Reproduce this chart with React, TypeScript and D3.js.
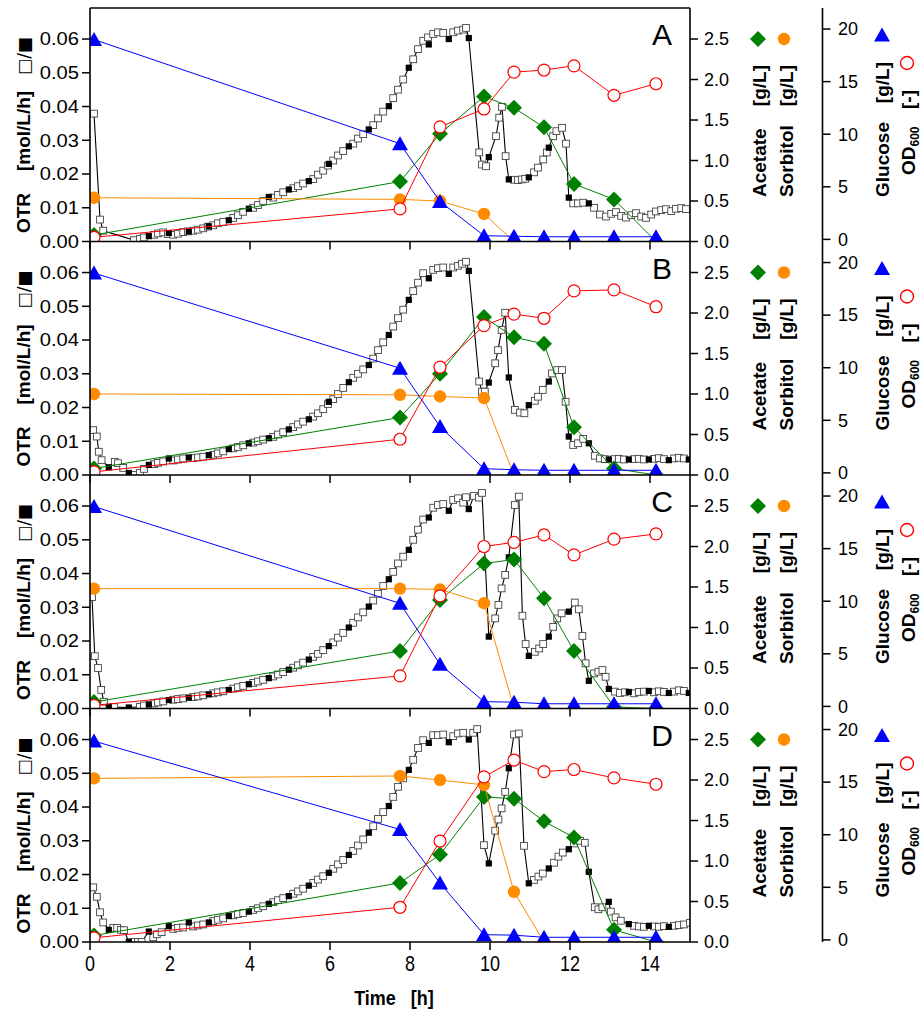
import React from "react";
import * as d3 from "d3";

// offline samples (h)
const sampleTime = [0.1, 7.75, 8.75, 9.85, 10.6, 11.35, 12.1, 13.1, 14.15];

const acetateA = [0.08, 0.74, 1.33, 1.79, 1.65, 1.41, 0.71, 0.52, 0];
const sorbitolA = [0.54, 0.52, 0.5, 0.34, 0, 0, 0, 0, 0];
const glucoseA = [19.0, 9.1, 3.6, 0.35, 0.3, 0.25, 0.25, 0.25, 0.25];
const odA = [0.2, 2.9, 10.7, 12.4, 15.9, 16.1, 16.5, 13.7, 14.8];

const acetateB = [0.08, 0.71, 1.25, 1.95, 1.7, 1.62, 0.59, 0.08, 0];
const sorbitolB = [1.0, 0.99, 0.97, 0.95, 0, 0, 0, 0, 0];
const glucoseB = [19.0, 9.95, 4.4, 0.4, 0.3, 0.25, 0.25, 0.25, 0.25];
const odB = [0.1, 3.2, 10.05, 14.0, 15.1, 14.7, 17.3, 17.4, 15.8];

const acetateC = [0.08, 0.71, 1.34, 1.79, 1.84, 1.36, 0.71, 0.02, 0];
const sorbitolC = [1.48, 1.48, 1.47, 1.3, 0, 0, 0, 0, 0];
const glucoseC = [19.0, 9.8, 4.0, 0.45, 0.4, 0.25, 0.25, 0.25, 0.25];
const odC = [0.1, 2.9, 10.5, 15.2, 15.6, 16.3, 14.4, 15.9, 16.4];

const acetateD = [0.08, 0.73, 1.08, 1.79, 1.77, 1.49, 1.29, 0.15, 0];
const sorbitolD = [2.02, 2.05, 2.0, 1.94, 0.62, 0, 0, 0, 0];
const glucoseD = [18.9, 10.5, 5.4, 0.5, 0.45, 0.25, 0.25, 0.25, 0.25];
const odD = [0.2, 3.1, 9.4, 15.5, 17.1, 16.0, 16.2, 15.4, 14.8];

// OTR, filled squares (mmol/L/h), every 0.5 h
const otrFilledTime = [0.47, 0.97, 1.47, 1.97, 2.47, 2.97, 3.47, 3.97, 4.47, 4.97, 5.47, 5.97, 6.47, 6.97, 7.47, 7.97, 8.47, 8.97, 9.47, 9.97, 10.47, 10.97, 11.47, 11.97, 12.47, 12.97, 13.47, 13.97, 14.47, 14.97];
const otrFilledA = [null, null, 1.6, 2.5, 3.0, 4.5, 6.3, 9.7, 13.2, 15.4, 17.9, 23.0, 28.2, 33.2, 40.1, 51.5, 58.4, 60.0, 60.3, 25.0, 18.4, 19.0, 27.8, 13.0, 11.3, null, null, null, null, null];
const otrFilledB = [2.3, 0.6, 3.0, 4.9, 5.2, 5.9, 7.7, 9.4, 10.9, 13.5, 16.5, 21.7, 27.5, 32.6, 41.5, 51.9, 58.3, 59.6, 60.5, 27.4, 28.9, 20.7, 27.7, 11.4, 9.4, 4.6, 4.6, 4.6, 4.4, 4.6];
const otrFilledC = [0.5, 0.3, 1.2, 2.5, 3.2, 4.2, 5.5, 7.2, 9.0, 11.5, 14.5, 18.5, 24.0, 30.2, 38.3, 47.0, 56.6, 58.6, 59.1, 21.3, 44.8, 15.6, 21.3, 28.7, 8.2, 5.8, 4.9, 5.2, 4.6, 4.6];
const otrFilledD = [3.6, 0.1, 3.1, 4.7, 5.8, 5.8, 7.7, 9.0, 11.3, 13.6, 16.7, 20.5, 25.8, 32.4, 40.3, 51.0, 59.0, 59.2, 60.0, 23.3, 51.5, 17.4, 21.8, 27.5, 20.8, 11.9, 5.3, 4.8, 4.5, null];

// OTR, open squares [t (h), mmol/L/h]
const otrOpenA = [[0.1, 37.9], [0.25, 6.5], [0.33, 3.2], [1.1, 0.4], [1.25, 0.8], [1.35, 1.2], [1.6, 2.0], [1.7, 2.4], [1.83, 2.7], [1.95, 2.2], [2.08, 2.0], [2.2, 2.3], [2.33, 2.8], [2.45, 3.0], [2.58, 3.2], [2.7, 3.5], [2.83, 3.9], [2.95, 4.4], [3.08, 4.8], [3.2, 5.4], [3.33, 5.8], [3.58, 7.0], [3.7, 7.8], [3.83, 8.8], [4.08, 10.0], [4.2, 10.8], [4.33, 12.0], [4.58, 13.0], [4.7, 13.8], [4.83, 14.6], [5.08, 15.8], [5.2, 16.4], [5.33, 17.2], [5.58, 18.5], [5.7, 19.8], [5.83, 21.0], [5.95, 22.5], [6.08, 24.0], [6.2, 25.5], [6.33, 26.8], [6.58, 29.0], [6.7, 30.5], [6.83, 31.8], [7.08, 34.5], [7.2, 36.5], [7.33, 38.5], [7.58, 42.5], [7.7, 45.0], [7.83, 48.0], [8.08, 54.0], [8.2, 57.0], [8.33, 59.5], [8.45, 60.5], [8.58, 61.5], [8.7, 62.0], [8.83, 61.8], [9.08, 62.0], [9.2, 62.5], [9.33, 62.8], [9.4, 63.3], [9.73, 26.4], [9.8, 22.8], [9.9, 22.3], [10.15, 31.2], [10.23, 36.7], [10.3, 39.9], [10.39, 25.3], [10.6, 18.3], [10.7, 18.2], [10.8, 18.4], [10.88, 18.6], [11.1, 20.5], [11.2, 21.9], [11.33, 24.3], [11.42, 26.4], [11.58, 31.2], [11.66, 32.7], [11.8, 33.7], [11.9, 29.0], [12.08, 11.3], [12.2, 11.3], [12.33, 11.5], [12.6, 10.0], [12.75, 8.0], [12.9, 7.4], [13.03, 8.2], [13.15, 8.7], [13.28, 7.6], [13.4, 7.1], [13.53, 7.8], [13.65, 8.4], [13.78, 7.4], [13.9, 7.0], [14.03, 8.0], [14.15, 8.9], [14.28, 9.3], [14.4, 9.6], [14.53, 9.0], [14.65, 9.7], [14.78, 9.9], [14.9, 9.6]];
const otrOpenB = [[0.08, 13.3], [0.17, 11.4], [0.22, 6.9], [0.29, 4.4], [0.62, 3.9], [0.7, 3.5], [0.83, 2.1], [1.1, 0.0], [1.25, 0.6], [1.35, 1.8], [1.6, 3.2], [1.7, 3.6], [1.83, 4.0], [2.08, 4.3], [2.2, 4.6], [2.33, 4.9], [2.58, 5.0], [2.7, 5.2], [2.83, 5.4], [3.08, 6.0], [3.2, 6.4], [3.33, 7.0], [3.58, 7.9], [3.7, 8.3], [3.83, 8.8], [4.08, 9.6], [4.2, 10.0], [4.33, 10.5], [4.58, 11.3], [4.7, 12.0], [4.83, 12.7], [5.08, 14.2], [5.2, 15.0], [5.33, 15.8], [5.58, 17.3], [5.7, 18.3], [5.83, 19.5], [5.95, 21.0], [6.08, 22.5], [6.2, 24.0], [6.33, 25.8], [6.58, 28.8], [6.7, 30.0], [6.83, 31.3], [7.08, 34.5], [7.2, 37.0], [7.33, 39.3], [7.58, 44.0], [7.7, 46.5], [7.83, 49.0], [8.08, 54.5], [8.2, 57.0], [8.33, 59.8], [8.58, 60.8], [8.7, 61.3], [8.83, 61.5], [9.08, 61.5], [9.2, 62.0], [9.3, 62.6], [9.4, 63.2], [9.73, 27.7], [9.8, 24.7], [9.87, 24.7], [10.13, 33.1], [10.2, 37.0], [10.29, 43.0], [10.38, 48.1], [10.62, 19.3], [10.75, 18.5], [10.86, 18.3], [11.12, 22.0], [11.2, 23.2], [11.32, 25.2], [11.55, 30.1], [11.68, 31.1], [11.8, 31.1], [11.89, 21.7], [12.08, 8.9], [12.2, 9.4], [12.33, 10.7], [12.62, 5.7], [12.75, 4.9], [12.87, 4.7], [13.1, 4.7], [13.22, 4.8], [13.35, 4.6], [13.6, 4.7], [13.72, 4.8], [13.85, 4.6], [14.1, 4.8], [14.22, 5.0], [14.35, 4.7], [14.6, 4.9], [14.72, 5.1], [14.85, 4.9]];
const otrOpenC = [[0.05, 33.0], [0.12, 15.5], [0.2, 12.0], [0.28, 5.5], [0.35, 2.0], [0.6, 0.4], [1.25, 0.5], [1.35, 0.9], [1.6, 1.5], [1.7, 1.8], [1.83, 2.1], [2.08, 2.6], [2.2, 2.8], [2.33, 3.0], [2.58, 3.4], [2.7, 3.6], [2.83, 3.9], [3.08, 4.5], [3.2, 4.8], [3.33, 5.1], [3.58, 5.9], [3.7, 6.3], [3.83, 6.7], [4.08, 7.6], [4.2, 8.0], [4.33, 8.5], [4.58, 9.5], [4.7, 10.1], [4.83, 10.8], [5.08, 12.1], [5.2, 12.8], [5.33, 13.6], [5.58, 15.3], [5.7, 16.2], [5.83, 17.3], [6.08, 19.6], [6.2, 21.0], [6.33, 22.4], [6.58, 25.4], [6.7, 27.0], [6.83, 28.5], [7.08, 32.0], [7.2, 34.0], [7.33, 36.3], [7.58, 40.5], [7.7, 43.0], [7.83, 45.0], [8.08, 50.0], [8.2, 53.0], [8.33, 56.0], [8.58, 59.5], [8.7, 60.3], [8.83, 60.6], [9.08, 61.8], [9.2, 62.3], [9.33, 61.0], [9.4, 62.6], [9.6, 63.0], [9.72, 62.5], [9.8, 63.9], [10.13, 26.7], [10.21, 30.7], [10.29, 35.6], [10.38, 39.6], [10.62, 60.3], [10.72, 62.8], [10.81, 27.5], [10.89, 19.1], [11.12, 16.8], [11.23, 17.8], [11.33, 19.1], [11.58, 24.2], [11.68, 26.7], [11.79, 28.2], [12.12, 31.4], [12.22, 29.4], [12.31, 21.5], [12.39, 13.4], [12.6, 10.4], [12.71, 10.9], [12.81, 11.4], [12.89, 9.4], [13.12, 5.0], [13.25, 4.6], [13.37, 4.8], [13.6, 4.5], [13.72, 4.9], [13.85, 5.0], [14.1, 4.8], [14.22, 5.1], [14.35, 4.9], [14.6, 5.0], [14.72, 5.4], [14.85, 5.2]];
const otrOpenD = [[0.08, 16.2], [0.17, 13.4], [0.25, 8.8], [0.33, 5.8], [0.58, 4.2], [0.68, 4.2], [0.77, 3.6], [0.85, 3.5], [1.1, 0.0], [1.2, 0.0], [1.29, 0.0], [1.58, 1.4], [1.67, 2.3], [1.79, 2.9], [2.08, 3.9], [2.2, 4.2], [2.33, 4.3], [2.58, 4.6], [2.7, 4.9], [2.83, 5.2], [3.08, 6.2], [3.2, 6.6], [3.33, 7.0], [3.58, 7.9], [3.7, 8.3], [3.83, 8.6], [4.08, 9.5], [4.2, 10.0], [4.33, 10.6], [4.58, 11.8], [4.7, 12.4], [4.83, 13.0], [5.08, 14.3], [5.2, 15.0], [5.33, 15.8], [5.58, 17.5], [5.7, 18.5], [5.83, 19.5], [6.08, 21.7], [6.2, 23.0], [6.33, 24.3], [6.58, 27.0], [6.7, 28.6], [6.83, 30.4], [7.08, 34.3], [7.2, 36.5], [7.33, 38.5], [7.58, 43.0], [7.7, 46.0], [7.83, 48.5], [8.08, 54.0], [8.2, 57.5], [8.33, 59.8], [8.58, 61.3], [8.7, 61.3], [8.83, 61.5], [9.08, 61.0], [9.2, 61.8], [9.33, 62.0], [9.58, 62.0], [9.68, 63.1], [9.85, 28.7], [10.13, 33.0], [10.21, 36.3], [10.29, 39.6], [10.38, 44.5], [10.6, 61.5], [10.72, 61.8], [10.85, 28.5], [11.1, 18.4], [11.21, 19.4], [11.32, 20.3], [11.6, 23.5], [11.71, 25.3], [11.82, 26.5], [12.1, 29.2], [12.25, 30.0], [12.37, 29.4], [12.62, 10.3], [12.71, 9.7], [12.81, 10.3], [13.02, 9.0], [13.14, 7.3], [13.27, 6.3], [13.6, 4.8], [13.72, 4.6], [13.85, 4.5], [14.1, 4.6], [14.22, 4.5], [14.35, 4.7], [14.6, 4.8], [14.72, 5.0], [14.85, 5.2], [15.0, 5.7]];

const panels = [
  { label: "A", acetate: acetateA, sorbitol: sorbitolA, glucose: glucoseA, od: odA, open: otrOpenA, filled: otrFilledA },
  { label: "B", acetate: acetateB, sorbitol: sorbitolB, glucose: glucoseB, od: odB, open: otrOpenB, filled: otrFilledB },
  { label: "C", acetate: acetateC, sorbitol: sorbitolC, glucose: glucoseC, od: odC, open: otrOpenC, filled: otrFilledC },
  { label: "D", acetate: acetateD, sorbitol: sorbitolD, glucose: glucoseD, od: odD, open: otrOpenD, filled: otrFilledD },
];

const W = 924;
const H = 1009;
const LEFT = 90;
const RIGHT = 690;
const FAR = 822.5;
const TOP = 8;
const PH = 233.5;
const BOTTOM = TOP + PH * panels.length;
const FONT = "'Liberation Sans', Arial, Helvetica, sans-serif";

const GREEN = "#008000";
const ORANGE = "#ff8c00";
const BLUE = "#0000ff";
const RED = "#ff0000";

const x = d3.scaleLinear().domain([0, 15]).range([LEFT, RIGHT]);

const diamond = "M0,-8L8,0L0,8L-8,0Z";
const triangle = "M0,-7.5L8,6.5L-8,6.5Z";

function Panel({ p, i }: { p: any; i: number }) {
  const top = TOP + i * PH;
  const bottom = top + PH;
  const yOtr = d3.scaleLinear().domain([0, 0.0692]).range([bottom, top]);
  const yConc = d3.scaleLinear().domain([0, 2.883]).range([bottom, top]);
  const yFar = d3.scaleLinear().domain([-0.2, 22]).range([bottom, top]);
  const clipId = `clip-${p.label}`;

  const filled = otrFilledTime
    .map((t, k) => [t, p.filled[k]])
    .filter((d) => d[1] != null) as number[][];
  const otrAll = [...p.open, ...filled].sort((a, b) => a[0] - b[0]);
  const otrLine = d3
    .line<number[]>()
    .x((d) => x(d[0]))
    .y((d) => yOtr(d[1] / 1000));

  const sampleLine = (vals: number[], y: d3.ScaleLinear<number, number>) =>
    d3
      .line<number>()
      .x((_, k) => x(sampleTime[k]))
      .y((d) => y(d))(vals) || "";

  const f2 = d3.format(".2f");
  const f1 = d3.format(".1f");

  return (
    <g>
      <defs>
        <clipPath id={clipId}>
          <rect x={LEFT} y={top} width={RIGHT - LEFT} height={PH} />
        </clipPath>
      </defs>

      <g clipPath={`url(#${clipId})`}>
        {/* OTR */}
        <path d={otrLine(otrAll) || ""} fill="none" stroke="#000" strokeWidth={1.1} />
        {p.open.map((d: number[], k: number) => (
          <rect key={"o" + k} x={x(d[0]) - 3.4} y={yOtr(d[1] / 1000) - 3.4} width={6.8} height={6.8} fill="#fff" stroke="#444" strokeWidth={0.9} />
        ))}
        {filled.map((d, k) => (
          <rect key={"f" + k} x={x(d[0]) - 3.1} y={yOtr(d[1] / 1000) - 3.1} width={6.2} height={6.2} fill="#000" />
        ))}

        {/* acetate */}
        <path d={sampleLine(p.acetate, yConc)} fill="none" stroke={GREEN} strokeWidth={1} />
        {p.acetate.map((v: number, k: number) => (
          <path key={"a" + k} d={diamond} transform={`translate(${x(sampleTime[k])},${yConc(v)})`} fill={GREEN} />
        ))}
        {/* sorbitol */}
        <path d={sampleLine(p.sorbitol, yConc)} fill="none" stroke={ORANGE} strokeWidth={1} />
        {p.sorbitol.map((v: number, k: number) => (
          <circle key={"s" + k} cx={x(sampleTime[k])} cy={yConc(v)} r={6.2} fill={ORANGE} />
        ))}
        {/* glucose */}
        <path d={sampleLine(p.glucose, yFar)} fill="none" stroke={BLUE} strokeWidth={1} />
        {p.glucose.map((v: number, k: number) => (
          <path key={"g" + k} d={triangle} transform={`translate(${x(sampleTime[k])},${yFar(v)})`} fill={BLUE} />
        ))}
        {/* OD600 */}
        <path d={sampleLine(p.od, yFar)} fill="none" stroke={RED} strokeWidth={1} />
        {p.od.map((v: number, k: number) => (
          <circle key={"d" + k} cx={x(sampleTime[k])} cy={yFar(v)} r={6} fill="#fff" stroke={RED} strokeWidth={1.2} />
        ))}
      </g>

      {/* bottom axis of the panel */}
      <line x1={LEFT} x2={RIGHT} y1={bottom} y2={bottom} stroke="#000" strokeWidth={1.6} />
      {x.ticks(8).map((t) => (
        <line key={"xt" + t} x1={x(t)} x2={x(t)} y1={bottom} y2={bottom + 8} stroke="#000" strokeWidth={1.5} />
      ))}

      {/* left axis ticks */}
      {yOtr.ticks(6).map((t) => (
        <g key={"yl" + t}>
          <line x1={LEFT - 8} x2={LEFT} y1={yOtr(t)} y2={yOtr(t)} stroke="#000" strokeWidth={1.5} />
          <text transform={`translate(79,${yOtr(t) + 6.3}) scale(1.12,1)`} textAnchor="end" fontSize={18}>
            {f2(t)}
          </text>
        </g>
      ))}

      {/* middle axis ticks */}
      {yConc.ticks(6).map((t) => (
        <g key={"ym" + t}>
          <line x1={RIGHT} x2={RIGHT + 8} y1={yConc(t)} y2={yConc(t)} stroke="#000" strokeWidth={1.5} />
          <text x={704} y={yConc(t) + 6.3} fontSize={18}>
            {f1(t)}
          </text>
        </g>
      ))}

      {/* far axis ticks */}
      {yFar.ticks(5).map((t) => (
        <g key={"yf" + t}>
          <line x1={FAR} x2={FAR + 8} y1={yFar(t)} y2={yFar(t)} stroke="#000" strokeWidth={1.5} />
          <text x={838} y={yFar(t) + 6.3} fontSize={18}>
            {t}
          </text>
        </g>
      ))}

      {/* panel letter */}
      <text x={662} y={top + 37} fontSize={30} textAnchor="middle">
        {p.label}
      </text>

      {/* axis titles */}
      <g fontWeight="bold" fontSize={19}>
        <text transform={`translate(29.5,${top + 205}) rotate(-90)`} textAnchor="middle">OTR</text>
        <text transform={`translate(29.5,${top + 123}) rotate(-90)`} textAnchor="middle">[mol/L/h]</text>
        <text transform={`translate(29.5,${top + 48}) rotate(-90)`} textAnchor="middle" fontWeight="normal" fontFamily="'DejaVu Sans', sans-serif" fontSize={17}>□/■</text>

        <text transform={`translate(766,${top + 189}) rotate(-90)`}>Acetate</text>
        <text transform={`translate(766,${top + 57}) rotate(-90)`} textAnchor="end">[g/L]</text>
        <text transform={`translate(792.5,${top + 189}) rotate(-90)`}>Sorbitol</text>
        <text transform={`translate(792.5,${top + 57}) rotate(-90)`} textAnchor="end">[g/L]</text>

        <text transform={`translate(889,${top + 189}) rotate(-90)`}>Glucose</text>
        <text transform={`translate(889,${top + 54}) rotate(-90)`} textAnchor="end">[g/L]</text>
        <text transform={`translate(915,${top + 167}) rotate(-90)`}>
          OD<tspan fontSize={12} dy={4}>600</tspan>
        </text>
        <text transform={`translate(915,${top + 82}) rotate(-90)`} textAnchor="end">[-]</text>
      </g>

      {/* legend symbols */}
      <path d={diamond} transform={`translate(758,${top + 31})`} fill={GREEN} />
      <circle cx={784} cy={top + 31} r={6.2} fill={ORANGE} />
      <path d={triangle} transform={`translate(882,${top + 27})`} fill={BLUE} />
      <circle cx={907} cy={top + 55} r={6.5} fill="#fff" stroke={RED} strokeWidth={1.4} />
    </g>
  );
}

export default function App() {
  return (
    <svg
      width={W}
      height={H}
      viewBox={`0 0 ${W} ${H}`}
      style={{ position: "absolute", left: 0, top: 0, background: "#fff" }}
      fontFamily={FONT}
    >
      <rect width={W} height={H} fill="#fff" />
      {panels.map((p, i) => (
        <Panel key={p.label} p={p} i={i} />
      ))}

      {/* frame lines */}
      <line x1={LEFT} x2={RIGHT} y1={TOP} y2={TOP} stroke="#000" strokeWidth={1.6} />
      <line x1={LEFT} x2={LEFT} y1={TOP} y2={BOTTOM} stroke="#000" strokeWidth={1.6} />
      <line x1={RIGHT} x2={RIGHT} y1={TOP} y2={BOTTOM} stroke="#000" strokeWidth={1.6} />
      <line x1={FAR} x2={FAR} y1={TOP} y2={BOTTOM} stroke="#000" strokeWidth={1.6} />

      {/* x tick labels */}
      {x.ticks(8).map((t) => (
        <text key={"xl" + t} transform={`translate(${x(t)},971) scale(1,1.25)`} textAnchor="middle" fontSize={18}>
          {t}
        </text>
      ))}
      <text transform="translate(394,1005) scale(1,1.15)" textAnchor="middle" fontSize={18} fontWeight="bold" style={{ whiteSpace: "pre" }}>
        {"Time   [h]"}
      </text>
    </svg>
  );
}
